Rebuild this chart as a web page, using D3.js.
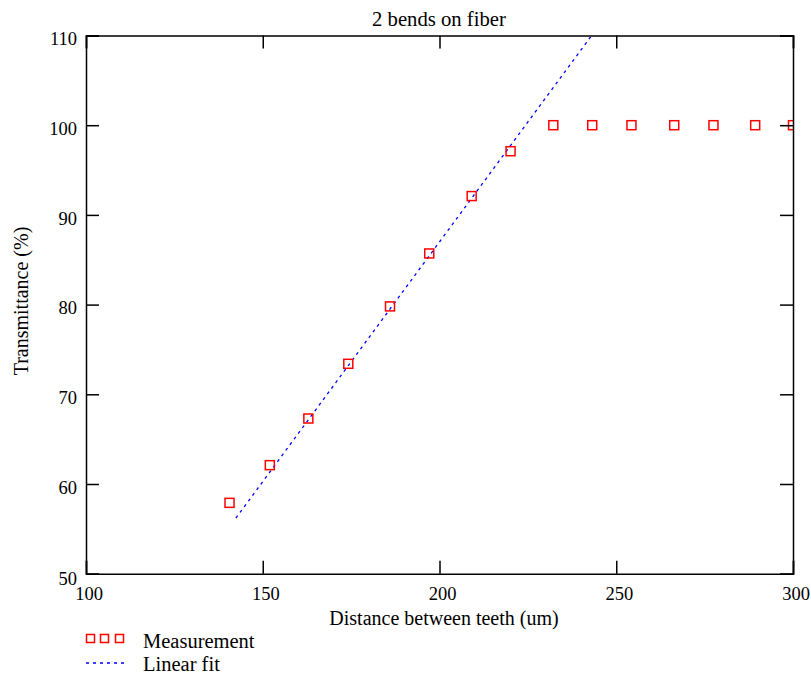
<!DOCTYPE html>
<html><head><meta charset="utf-8">
<script src="https://cdn.jsdelivr.net/npm/d3@7"></script>
<style>body{margin:0;background:#fff}text{font-family:"Liberation Serif","Times New Roman",serif;fill:#000}</style>
</head><body>
<script>
const measX = [140.6, 152.0, 162.9, 174.2, 186.0, 197.1, 209.1, 220.1, 232.2, 243.2, 254.3, 266.4, 277.5, 289.3, 300.0];
const measY = [57.9, 62.1, 67.3, 73.4, 79.8, 85.7, 92.1, 97.1, 100, 100, 100, 100, 100, 100, 100];
const fitX = [142.4, 243.6];
const fitY = [56.2, 110.3];
const xTicks = [100, 150, 200, 250, 300];
const yTicks = [50, 60, 70, 80, 90, 100, 110];

const W = 811, H = 675;
const L = 86, R = 793, T = 35.5, B = 573.7;
const svg = d3.select("body").append("svg").attr("width", W).attr("height", H);
const x = d3.scaleLinear().domain([100, 300]).range([L, R]);
const y = d3.scaleLinear().domain([50, 110]).range([B, T]);

svg.append("clipPath").attr("id", "clip").append("rect")
  .attr("x", L).attr("y", T).attr("width", R - L).attr("height", B - T);

const g = svg.append("g").attr("clip-path", "url(#clip)");
g.append("path").datum(fitX.map((d, i) => [d, fitY[i]]))
  .attr("d", d3.line().x(d => x(d[0])).y(d => y(d[1])))
  .attr("fill", "none").attr("stroke", "#0000ff").attr("stroke-width", 1.3)
  .attr("stroke-dasharray", "3,4");
g.selectAll("rect.m").data(measX.map((d, i) => [d, measY[i]])).enter().append("rect")
  .attr("class", "m")
  .attr("x", d => x(d[0]) - 4.5).attr("y", d => y(d[1]) - 4.5)
  .attr("width", 9).attr("height", 9)
  .attr("fill", "none").attr("stroke", "#ff0000").attr("stroke-width", 1.5);

// axes: inner ticks
const tl = 13;
const axB = svg.append("g").attr("transform", `translate(0,${B})`)
  .call(d3.axisBottom(x).tickValues(xTicks).tickSize(-tl).tickPadding(13).tickFormat(d3.format("d")));
const axT = svg.append("g").attr("transform", `translate(0,${T})`)
  .call(d3.axisTop(x).tickValues(xTicks).tickSize(-tl).tickFormat(""));
const axL = svg.append("g").attr("transform", `translate(${L},0)`)
  .call(d3.axisLeft(y).tickValues(yTicks).tickSize(-tl).tickPadding(9).tickFormat(d3.format("d")));
const axR = svg.append("g").attr("transform", `translate(${R},0)`)
  .call(d3.axisRight(y).tickValues(yTicks).tickSize(-tl).tickFormat(""));
[axB, axT, axL, axR].forEach(a => {
  a.selectAll("path.domain").attr("stroke", "#000").attr("stroke-width", 1.5);
  a.selectAll(".tick line").attr("stroke", "#000").attr("stroke-width", 1.5);
  a.selectAll("text").style("font-family", '"Liberation Serif", serif').style("font-size", "18.5px").attr("fill", "#000");
});
axL.selectAll("text").attr("dy", "0.5em");
axL.selectAll(".tick").filter(d => d === 50).select("text").attr("dy", "0.6em");
axB.selectAll("text").attr("dx", 2.5);

svg.append("text").attr("x", 439).attr("y", 26).attr("text-anchor", "middle")
  .style("font-size", "20.7px").text("2 bends on fiber");
svg.append("text").attr("x", 444).attr("y", 625).attr("text-anchor", "middle")
  .style("font-size", "20px").text("Distance between teeth (um)");
svg.append("text").attr("transform", `translate(28,301) rotate(-90)`).attr("text-anchor", "middle")
  .style("font-size", "20px").text("Transmittance (%)");

// legend
const lg = svg.append("g");
[90.5, 104.5, 119.5].forEach(cx => lg.append("rect").attr("x", cx - 4).attr("y", 634.5).attr("width", 8).attr("height", 8)
  .attr("fill", "none").attr("stroke", "#ff0000").attr("stroke-width", 1.5));
lg.append("line").attr("x1", 86).attr("x2", 126).attr("y1", 663).attr("y2", 663)
  .attr("stroke", "#0000ff").attr("stroke-width", 1.3).attr("stroke-dasharray", "3,4");
lg.append("text").attr("x", 143).attr("y", 648).style("font-size", "20.5px").text("Measurement");
lg.append("text").attr("x", 143).attr("y", 671).style("font-size", "20.5px").text("Linear fit");
</script>
</body></html>
